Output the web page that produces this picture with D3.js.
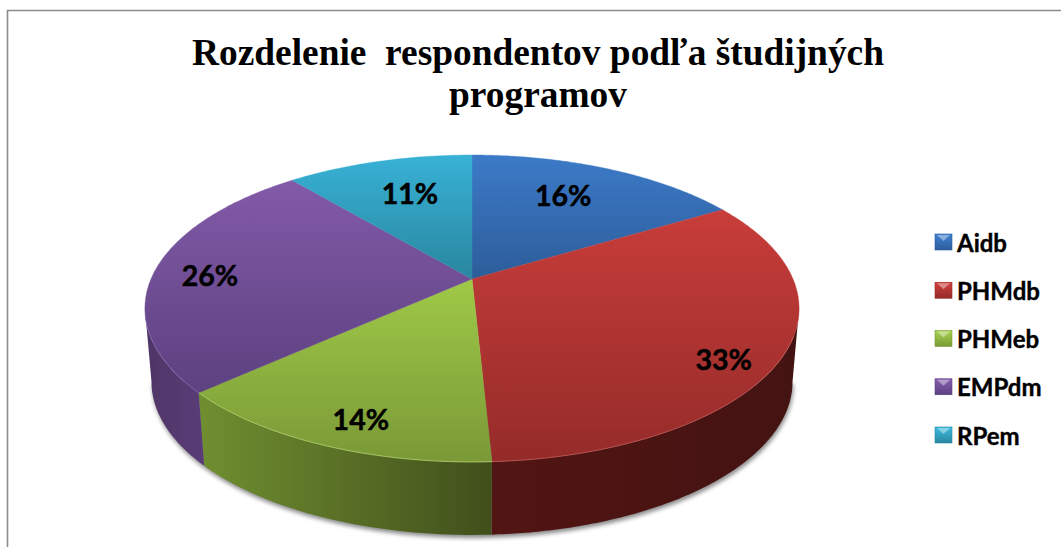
<!DOCTYPE html>
<html>
<head>
<meta charset="utf-8">
<title>Rozdelenie respondentov</title>
<script src="https://cdn.jsdelivr.net/npm/d3@7"></script>
<style>
    html, body { margin: 0; padding: 0; background: #fff; overflow: hidden; }
    svg { display: block; }
    .chart-title { font-family: "Liberation Serif", serif; font-weight: bold; font-size: 37.4px; fill: #000; }
    .slice-label { font-family: Lato, sans-serif; font-weight: bold; font-size: 28.5px; fill: #000; stroke: #000; stroke-width: 0.5; text-anchor: middle; dominant-baseline: central; }
    .legend-label { font-family: Lato, sans-serif; font-weight: bold; font-size: 24px; fill: #000; stroke: #000; stroke-width: 0.4; dominant-baseline: central; }
</style>
</head>
<body>
<div id="chart"></div>
<script>
var categories = ['Aidb', 'PHMdb', 'PHMeb', 'EMPdm', 'RPem'];
// shown rounded, the slice edges sit slightly off the whole numbers
var shares = [16.4, 32.8, 14.1, 25.6, 11.1];
var titleLines = ['Rozdelenie  respondentov podľa študijných', 'programov'];

// top face gradient, [upper, lower]
var topColors = [['#3c7ac8', '#2d5d9a'], ['#c83d3a', '#942b29'], ['#9fc947', '#7a9937'], ['#825aa8', '#5d4180'], ['#38b2d6', '#29869f']];
// side wall gradient, [left, right]
var wallColors = [['#2d5d9a', '#2d5d9a'], ['#521513', '#431312'], ['#708f30', '#414f1b'], ['#4e3566', '#5a3d78'], ['#29869f', '#29869f']];
var rimColors = ['#5a8fd0', '#c8605c', '#b8d873', '#8a6ab0', '#5cc4e0'];
var labelNudge = [[-8, -3], [40, 28], [-13, 31], [-40, 3], [6, 0]];

var width = 1061, height = 547;

// the pie is a circle seen in perspective, so the apex sits above the middle of the ellipse
var pieCfg = { cx: 472, cy: 279, a: 321, b: 147.8, k: -0.192, depth: 73, bottomScale: 0.98 };

function project(angle, r, bottom) {
    var u = r * Math.sin(angle);
    var v = -r * Math.cos(angle);
    var w = 1 + pieCfg.k * v;
    var s = bottom ? pieCfg.bottomScale : 1;
    return [pieCfg.cx + s * pieCfg.a * u / w,
            pieCfg.cy + pieCfg.b * v / w + (bottom ? pieCfg.depth : 0)];
}

function arcPoints(a0, a1, bottom) {
    var n = Math.max(2, Math.ceil((a1 - a0) / 0.01));
    return d3.range(n + 1).map(function(i) {
        return project(a0 + (a1 - a0) * i / n, 1, bottom);
    });
}

var line = d3.line();

var svg = d3.select('#chart').append('svg')
    .attr('width', width)
    .attr('height', height);

var defs = svg.append('defs');

defs.append('filter').attr('id', 'soft')
    .attr('x', '-5%').attr('y', '-5%').attr('width', '110%').attr('height', '110%')
    .append('feGaussianBlur').attr('stdDeviation', 2.2);

defs.append('filter').attr('id', 'rimSoft')
    .attr('x', '-5%').attr('y', '-5%').attr('width', '110%').attr('height', '110%')
    .append('feGaussianBlur').attr('stdDeviation', 0.5);

function addGradient(id, colors, vertical) {
    var g = defs.append('linearGradient').attr('id', id)
        .attr('x1', 0).attr('y1', 0)
        .attr('x2', vertical ? 0 : 1).attr('y2', vertical ? 1 : 0);
    g.append('stop').attr('offset', '0%').attr('stop-color', colors[0]);
    g.append('stop').attr('offset', '100%').attr('stop-color', colors[1]);
}

categories.forEach(function(c, i) {
    addGradient('top' + i, topColors[i], true);
    addGradient('wall' + i, wallColors[i], false);
    addGradient('key' + i, [d3.rgb(topColors[i][0]).brighter(0.15), topColors[i][1]], true);
});

// frame, only top and left are visible in the crop
svg.append('path')
    .attr('d', 'M7.5,547V10.5H1061')
    .attr('fill', 'none')
    .attr('stroke', '#8c8c8c')
    .attr('stroke-width', 1.6);

svg.selectAll('.chart-title')
    .data(titleLines)
    .enter()
    .append('text')
    .attr('class', 'chart-title')
    .attr('x', 538)
    .attr('y', function(d, i) { return 65 + i * 42; })
    .attr('text-anchor', 'middle')
    .style('white-space', 'pre')
    .text(function(d) { return d; });

var pie = d3.pie().sort(null).startAngle(0).endAngle(2 * Math.PI).value(function(d) { return d; });
var slices = pie(shares);

// the wall runs between the two points where the rim is widest
var wallFrom = Math.acos(pieCfg.k), wallTo = 2 * Math.PI - wallFrom;

// soft shadow under the disc
var fullBottom = arcPoints(wallFrom, wallTo, true);
svg.append('path')
    .attr('d', line(fullBottom) + 'Z')
    .attr('transform', 'translate(1,3)')
    .attr('fill', '#8a8a8a')
    .attr('filter', 'url(#soft)');

var walls = slices.filter(function(d) { return d.endAngle > wallFrom && d.startAngle < wallTo; });

svg.selectAll('.wall')
    .data(walls)
    .enter()
    .append('path')
    .attr('class', 'wall')
    .attr('fill', function(d) { return 'url(#wall' + d.index + ')'; })
    .attr('d', function(d) {
        var a0 = Math.max(d.startAngle, wallFrom);
        var a1 = Math.min(d.endAngle, wallTo);
        return line(arcPoints(a0, a1, false).concat(arcPoints(a0, a1, true).reverse())) + 'Z';
    });

svg.selectAll('.face')
    .data(slices)
    .enter()
    .append('path')
    .attr('class', 'face')
    .attr('fill', function(d) { return 'url(#top' + d.index + ')'; })
    .attr('stroke', function(d) { return 'url(#top' + d.index + ')'; })
    .attr('stroke-width', 0.4)
    .attr('d', function(d) {
        return line([project(0, 0)].concat(arcPoints(d.startAngle, d.endAngle, false))) + 'Z';
    });

// lighter bevel along the front edge, fades out before the sides
var rimFrom = Math.PI * 0.62, rimTo = Math.PI * 1.42;

svg.selectAll('.rim')
    .data(slices.filter(function(d) { return d.endAngle > rimFrom && d.startAngle < rimTo; }))
    .enter()
    .append('path')
    .attr('class', 'rim')
    .attr('fill', 'none')
    .attr('stroke', function(d) { return rimColors[d.index]; })
    .attr('stroke-width', 1)
    .attr('stroke-opacity', 0.7)
    .attr('filter', 'url(#rimSoft)')
    .attr('d', function(d) {
        return line(arcPoints(Math.max(d.startAngle, rimFrom), Math.min(d.endAngle, rimTo), false));
    });

svg.selectAll('.slice-label')
    .data(slices)
    .enter()
    .append('text')
    .attr('class', 'slice-label')
    .attr('transform', function(d) {
        var p = project((d.startAngle + d.endAngle) / 2, 0.7);
        var n = labelNudge[d.index];
        return 'translate(' + (p[0] + n[0]) + ',' + (p[1] + n[1]) + ')';
    })
    .text(function(d) { return Math.round(d.value) + '%'; });

var legendY = d3.scalePoint().domain(categories).range([242, 435]);

var key = svg.selectAll('.key')
    .data(categories)
    .enter()
    .append('g')
    .attr('class', 'key')
    .attr('transform', function(d) { return 'translate(935,' + legendY(d) + ')'; });

key.append('rect')
    .attr('x', 0).attr('y', -8)
    .attr('width', 17).attr('height', 16)
    .attr('fill', function(d, i) { return 'url(#key' + i + ')'; })
    .attr('stroke', function(d, i) { return topColors[i][1]; })
    .attr('stroke-width', 0.6);

key.append('path')
    .attr('d', 'M2,-7H15L8.5,-1Z')
    .attr('fill', '#fff')
    .attr('fill-opacity', 0.4);

key.append('text')
    .attr('class', 'legend-label')
    .attr('x', 22)
    .attr('y', 0)
    .text(function(d) { return d; });
</script>
</body>
</html>
